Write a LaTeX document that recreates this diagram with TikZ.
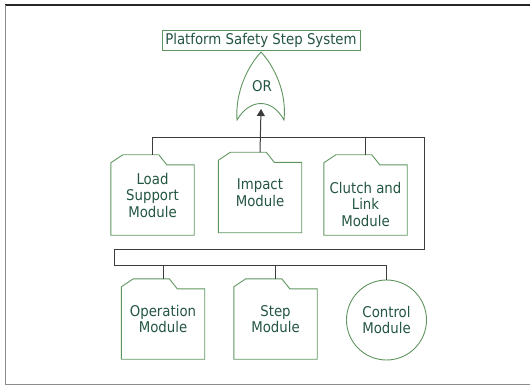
\documentclass[tikz,border=0pt]{standalone}
\usepackage{fontspec}
\setmainfont{DejaVu Sans Condensed}
\usetikzlibrary{calc,arrows.meta}
\definecolor{outl}{RGB}{95,150,95}
\definecolor{txt}{RGB}{35,85,65}
\definecolor{wirec}{RGB}{60,60,60}
\tikzset{
  outline/.style={draw=outl, line width=0.9pt},
  wire/.style={draw=wirec, line width=1pt},
  folderbox/.style={minimum width=83pt, minimum height=80pt, inner sep=0pt, text=txt, align=center,
     font=\fontsize{14.8pt}{16.5pt}\selectfont},
  lbl/.style={text=txt, align=center, inner sep=0pt, font=\fontsize{14.8pt}{16.5pt}\selectfont},
}
\newcommand{\folderoutline}[1]{%
  \draw[outline] ($(#1.north west)+(0,8)$) -- ($(#1.north west)+(12,0)$) -- ($(#1.north west)+(48,0)$)
   -- ($(#1.north west)+(56,10)$) -- ($(#1.north east)+(0,10)$) -- (#1.south east) -- (#1.south west) -- cycle;}
\begin{document}
\begin{tikzpicture}[x=1pt,y=-1pt]
\useasboundingbox (0,0) rectangle (530,385);
% frame
\draw[color=black!85, line width=1.3pt] (5,5) -- (530,5);
\draw[color=black!45, line width=1.3pt] (5.5,5) -- (5.5,384.5) -- (530,384.5);
% title
\node[draw=outl, line width=0.9pt, minimum width=198pt, minimum height=20pt, inner sep=0pt, lbl] (title) at (261,40) {Platform Safety Step System};
% OR gate
\node[lbl] (gate) at (262,86) {OR};
\coordinate (gatein) at (261,109);
\draw[outline] (237,120) .. controls (235,92) and (248,66) .. (261,52)
  .. controls (274,66) and (287,92) .. (284,120)
  .. controls (272,98) and (250,98) .. (237,120) -- cycle;
% modules
\node[folderbox] (load) at (152.5,195) {Load\\Support\\Module};
\node[folderbox] (impact) at (260,192.5) {Impact\\Module};
\node[folderbox] (clutch) at (365.5,195) {};
\node[lbl] (clutchtxt) at (365.5,204) {Clutch and\\Link\\Module};
\node[folderbox] (oper) at (163,319) {Operation\\Module};
\node[folderbox] (stepm) at (275.5,319) {Step\\Module};
\node[circle, outline, minimum size=80pt, inner sep=0pt, lbl] (control) at (386.5,320) {Control\\Module};
\folderoutline{load}
\folderoutline{impact}
\folderoutline{clutch}
\folderoutline{oper}
\folderoutline{stepm}
% wiring
\coordinate (c1) at (424,138);
\coordinate (c2) at (114,249);
\coordinate (c3) at (114,265);
\draw[wire] (load.north) |- (c1) |- (c2) -- (c3) -| (control.north);
\draw[wire] (clutch.north) -- (clutch.north |- c1);
\draw[wire] (oper.north) -- (oper.north |- c3);
\draw[wire] (stepm.north) -- (stepm.north |- c3);
\draw[wire, -{Triangle[length=7pt,width=8pt]}] (impact.north) -- (gatein);
\end{tikzpicture}
\end{document}
